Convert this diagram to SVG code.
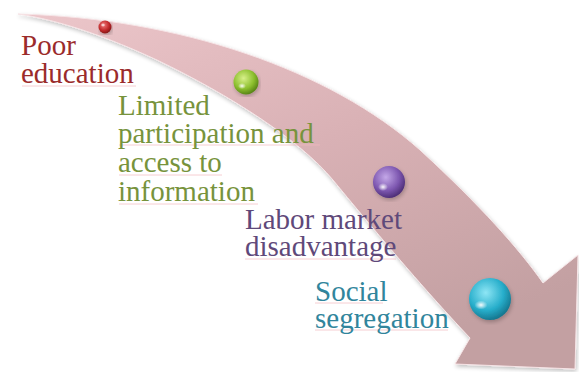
<svg xmlns="http://www.w3.org/2000/svg" width="579" height="372" viewBox="0 0 579 372">
  <style>
    .lbl { font-family: "Liberation Serif", "Times New Roman", serif; font-size: 29px; }
    .red { fill: #9b2b2b; }
    .green { fill: #77933c; }
    .purple { fill: #5f497a; }
    .cyan { fill: #31859c; }
    .uline { stroke: #f2b8bf; stroke-width: 1; opacity: 0.7; }
  </style>
  <defs>
    <linearGradient id="bandFill" x1="0" y1="0" x2="0.6" y2="1">
      <stop offset="0" stop-color="#ecc6ca"/>
      <stop offset="0.5" stop-color="#d9b1b5"/>
      <stop offset="1" stop-color="#c3a0a2"/>
    </linearGradient>
    <filter id="soft" x="-10%" y="-10%" width="120%" height="120%">
      <feGaussianBlur in="SourceAlpha" stdDeviation="2"/>
      <feOffset dx="1" dy="2"/>
      <feComponentTransfer><feFuncA type="linear" slope="0.25"/></feComponentTransfer>
      <feMerge><feMergeNode/><feMergeNode in="SourceGraphic"/></feMerge>
    </filter>
    <radialGradient id="ballRed" cx="0.4" cy="0.35" r="0.7">
      <stop offset="0" stop-color="#f07a7a"/>
      <stop offset="0.6" stop-color="#c0282a"/>
      <stop offset="1" stop-color="#7a1414"/>
    </radialGradient>
    <radialGradient id="ballGreen" cx="0.4" cy="0.35" r="0.7">
      <stop offset="0" stop-color="#d8f08a"/>
      <stop offset="0.6" stop-color="#8cbf2e"/>
      <stop offset="1" stop-color="#4f7a12"/>
    </radialGradient>
    <radialGradient id="ballPurple" cx="0.4" cy="0.35" r="0.7">
      <stop offset="0" stop-color="#c4a8e8"/>
      <stop offset="0.6" stop-color="#7d57b0"/>
      <stop offset="1" stop-color="#46286e"/>
    </radialGradient>
    <radialGradient id="ballCyan" cx="0.4" cy="0.35" r="0.7">
      <stop offset="0" stop-color="#8ee6f5"/>
      <stop offset="0.6" stop-color="#27aecb"/>
      <stop offset="1" stop-color="#126e86"/>
    </radialGradient>
    <radialGradient id="gloss" cx="0.5" cy="0.5" r="0.5">
      <stop offset="0" stop-color="#ffffff" stop-opacity="0.95"/>
      <stop offset="1" stop-color="#ffffff" stop-opacity="0"/>
    </radialGradient>
  </defs>

  <!-- curved arrow band -->
  <g id="arrow" filter="url(#soft)">
    <path d="M18,14 C180,18 330,70 420,150 C480,205 520,250 543,283 L578,255 L575,369 L455,364 L470,338 C420,285 370,225 333,180 C300,140 230,95 157,60 C110,38 60,20 18,14 Z"
          fill="url(#bandFill)" stroke="#f6e4e6" stroke-width="1"/>
  </g>

  <!-- markers on the band -->
  <g id="ball-poor-education" filter="url(#soft)">
    <circle cx="105" cy="27" r="6.5" fill="url(#ballRed)"/>
    <ellipse cx="103" cy="25" rx="2.5" ry="2" fill="url(#gloss)"/>
  </g>
  <g id="ball-limited-participation" filter="url(#soft)">
    <circle cx="246" cy="82" r="12.5" fill="url(#ballGreen)"/>
    <ellipse cx="242" cy="86" rx="4" ry="3" fill="url(#gloss)"/>
  </g>
  <g id="ball-labor-market" filter="url(#soft)">
    <circle cx="389" cy="182" r="16" fill="url(#ballPurple)"/>
    <ellipse cx="383" cy="187" rx="5" ry="4" fill="url(#gloss)"/>
  </g>
  <g id="ball-social-segregation" filter="url(#soft)">
    <circle cx="490" cy="299" r="21" fill="url(#ballCyan)"/>
    <ellipse cx="481" cy="305" rx="6.5" ry="4.5" fill="url(#gloss)"/>
  </g>

  <!-- labels -->
  <g id="label-poor-education">
    <line class="uline" x1="22" y1="86" x2="136" y2="86"/>
    <text class="lbl red" x="21" y="55">Poor</text>
    <text class="lbl red" x="21" y="83">education</text>
  </g>
  <g id="label-limited-participation">
    <line class="uline" x1="119" y1="145" x2="320" y2="145"/>
    <line class="uline" x1="119" y1="175" x2="222" y2="175"/>
    <line class="uline" x1="119" y1="204" x2="258" y2="204"/>
    <text class="lbl green" x="118" y="115">Limited</text>
    <text class="lbl green" x="118" y="143">participation and</text>
    <text class="lbl green" x="118" y="172">access to</text>
    <text class="lbl green" x="118" y="201">information</text>
  </g>
  <g id="label-labor-market">
    <line class="uline" x1="245" y1="259" x2="396" y2="259"/>
    <text class="lbl purple" x="245" y="229">Labor market</text>
    <text class="lbl purple" x="245" y="256">disadvantage</text>
  </g>
  <g id="label-social-segregation">
    <line class="uline" x1="315" y1="303" x2="383" y2="303"/>
    <line class="uline" x1="315" y1="330" x2="448" y2="330"/>
    <text class="lbl cyan" x="315" y="301">Social</text>
    <text class="lbl cyan" x="315" y="328">segregation</text>
  </g>
</svg>
